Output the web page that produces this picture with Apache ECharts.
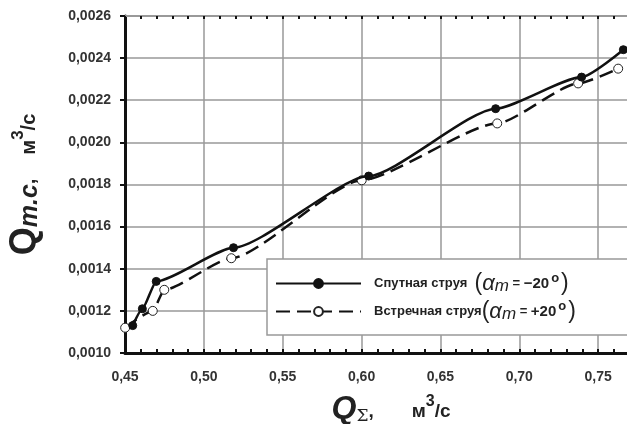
<!DOCTYPE html>
<html>
<head>
<meta charset="utf-8">
<script src="https://cdn.jsdelivr.net/npm/echarts@6/dist/echarts.min.js"></script>
<style>
  html, body { margin: 0; padding: 0; background: #fff; }
  #chart { width: 627px; height: 424px; }
</style>
</head>
<body>
<div id="chart"></div>
<script>
// Спутная струя (alpha_m = -20)
const sputX = [0.4549, 0.4610, 0.4698, 0.5188, 0.6045, 0.6850, 0.7395, 0.7660]
const sputY = [0.00113, 0.00121, 0.00134, 0.00150, 0.00184, 0.00216, 0.00231, 0.00244]
// Встречная струя (alpha_m = +20)
const vstrX = [0.4501, 0.4676, 0.4749, 0.5174, 0.6001, 0.6860, 0.7373, 0.7627]
const vstrY = [0.00112, 0.00120, 0.00130, 0.00145, 0.00182, 0.00209, 0.00228, 0.00235]

const seriesNames = ['sput', 'vstr']

const FONT = '"Liberation Sans", Arial, sans-serif'

const pairs = (xs, ys) => xs.map((x, i) => [x, ys[i]])

// подписи легенды
const legendRich = {
    f: { fontFamily: FONT, fontWeight: 'bold', fontSize: 13, color: '#222', padding: [0, 0, 0, 8], lineHeight: 22 },
    t: { fontFamily: FONT, fontWeight: 'bold', fontSize: 15, color: '#222', lineHeight: 22 },
    p: { fontFamily: FONT, fontSize: 23, color: '#222', lineHeight: 22 },
    a: { fontFamily: FONT, fontStyle: 'italic', fontSize: 22, color: '#222', lineHeight: 22 },
    m: { fontFamily: FONT, fontStyle: 'italic', fontSize: 17, color: '#222', lineHeight: 22, padding: [6, 0, 0, 0] },
    e: { fontFamily: FONT, fontWeight: 'bold', fontSize: 13, color: '#222', lineHeight: 22 },
    o: { fontFamily: FONT, fontWeight: 'bold', fontSize: 13, color: '#222', lineHeight: 22, padding: [0, 2, 10, 2] }
}

// подпись оси: Q с индексом и единицы м3/с
const axisNameRich = (qStyle, subStyle, unitSize, gap) => ({
    q: Object.assign({ fontFamily: FONT, fontWeight: 'bold', color: '#222', verticalAlign: 'bottom' }, qStyle),
    s: Object.assign({ color: '#222', verticalAlign: 'bottom' }, subStyle),
    t: { fontFamily: FONT, fontWeight: 'bold', fontSize: unitSize, color: '#222', verticalAlign: 'bottom', padding: [0, 0, 4, 0] },
    g: { fontFamily: FONT, fontWeight: 'bold', fontSize: unitSize, color: '#222', verticalAlign: 'bottom', padding: [0, 0, 4, gap] },
    u: { fontFamily: FONT, fontWeight: 'bold', fontSize: unitSize - 3, color: '#222', verticalAlign: 'bottom', padding: [0, 0, unitSize - 4, 0] }
})

const chart = echarts.init(document.getElementById('chart'))

let option = {
    animation: false,
    backgroundColor: '#fff',
    grid: {
        left: 125,
        right: -50,
        top: 16,
        bottom: 71,
        outerBoundsMode: 'none',
        containLabel: false
    },
    legend: {
        orient: 'vertical',
        left: 267,
        top: 259,
        itemWidth: 85,
        itemHeight: 11,
        itemGap: 5,
        padding: [13, 60, 12, 8],
        backgroundColor: '#fff',
        borderColor: '#999',
        borderWidth: 1.5,
        data: seriesNames,
        formatter(name) {
            if (name === 'sput') {
                return '{f|Спутная струя  }{p|(}{a|α}{m|m}{e| = }{t|−20}{o|o}{p|)}'
            }
            return '{f|Встречная струя}{p|(}{a|α}{m|m}{e| = }{t|+20}{o|o}{p|)}'
        },
        textStyle: { rich: legendRich }
    },
    xAxis: [
        {
            type: 'value',
            min: 0.45,
            max: 0.8,
            interval: 0.05,
            position: 'bottom',
            name: '{q|Q}{s|Σ}{t|,}{g|м}{u|3}{t|/с}',
            nameLocation: 'middle',
            nameGap: 38,
            nameTextStyle: {
                padding: [0, 20, 0, 0],
                rich: axisNameRich(
                    { fontStyle: 'italic', fontSize: 32, lineHeight: 34 },
                    { fontFamily: '"DejaVu Serif", serif', fontSize: 17 },
                    19,
                    38
                )
            },
            axisLine: { onZero: false, lineStyle: { color: '#111', width: 3 } },
            axisTick: { show: true, inside: true, length: 4, lineStyle: { color: '#111', width: 2 } },
            minorTick: { show: true, splitNumber: 5, length: 4, lineStyle: { color: '#111', width: 2 } },
            axisLabel: {
                margin: 17,
                fontFamily: FONT,
                fontWeight: 'bold',
                fontSize: 14,
                color: '#333',
                formatter: v => v.toFixed(2).replace('.', ',')
            },
            splitLine: { show: true, lineStyle: { color: '#999', width: 1.5 } }
        },
        {
            type: 'value',
            min: 0.45,
            max: 0.8,
            interval: 0.05,
            position: 'top',
            axisLine: { onZero: false, lineStyle: { color: '#999', width: 2 } },
            axisTick: { show: true, inside: true, length: 3, lineStyle: { color: '#111', width: 2 } },
            minorTick: { show: true, splitNumber: 5, length: 3, lineStyle: { color: '#111', width: 2 } },
            axisLabel: { show: false },
            splitLine: { show: false }
        }
    ],
    yAxis: {
        type: 'value',
        min: 0.001,
        max: 0.0026,
        interval: 0.0002,
        name: '{q|Q}{s|m.c}{t|,}{g|м}{u|3}{t|/с}',
        nameLocation: 'middle',
        nameGap: 82,
        nameRotate: 90,
        nameTextStyle: {
            rich: axisNameRich(
                { fontSize: 36, lineHeight: 36 },
                { fontFamily: FONT, fontWeight: 'bold', fontStyle: 'italic', fontSize: 25 },
                20,
                24
            )
        },
        axisLine: { show: true, onZero: false, lineStyle: { color: '#111', width: 3 } },
        axisTick: { show: true, length: 5, lineStyle: { color: '#111', width: 2 } },
        axisLabel: {
            margin: 14,
            fontFamily: FONT,
            fontWeight: 'bold',
            fontSize: 14,
            color: '#333',
            formatter: v => v.toFixed(4).replace('.', ',')
        },
        splitLine: { show: true, lineStyle: { color: '#999', width: 1.5 } }
    },
    series: [
        {
            name: 'sput',
            type: 'line',
            data: pairs(sputX, sputY),
            smooth: 0.2,
            smoothMonotone: 'x',
            symbol: 'circle',
            symbolSize: 8,
            itemStyle: { color: '#111', borderColor: '#111', borderWidth: 1 },
            lineStyle: { color: '#111', width: 2.5 },
            z: 3
        },
        {
            name: 'vstr',
            type: 'line',
            data: pairs(vstrX, vstrY),
            smooth: 0.2,
            smoothMonotone: 'x',
            symbol: 'circle',
            symbolSize: 9,
            itemStyle: { color: '#fff', borderColor: '#222', borderWidth: 1 },
            lineStyle: { color: '#111', width: 2.5, type: [14, 7] },
            z: 2
        }
    ]
}

chart.setOption(option)
</script>
</body>
</html>
